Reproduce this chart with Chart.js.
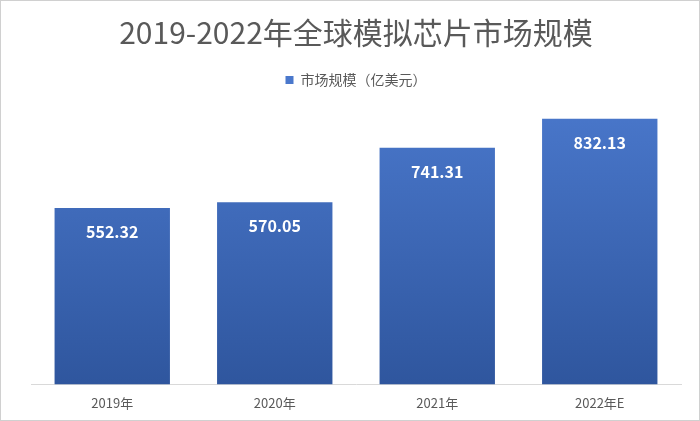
<!DOCTYPE html>
<html><head><meta charset="utf-8">
<script src="https://cdn.jsdelivr.net/npm/chart.js@4/dist/chart.umd.min.js"></script>
<style>html,body{margin:0;padding:0;background:#fff}#w{width:698px;height:419px;border:1px solid #d0d0d0}</style>
</head><body><div id="w"><canvas id="c"></canvas></div>
<script>
const categories=["2019年","2020年","2021年","2022年E"];
const values=[552.32,570.05,741.31,832.13];
const seriesName="市场规模（亿美元）";
const titleText="2019-2022年全球模拟芯片市场规模";
const labelPlugin={id:'lbl',afterDatasetsDraw(ch){const ctx=ch.ctx;const m=ch.getDatasetMeta(0);ctx.save();ctx.fillStyle='#fff';ctx.font='bold 16px "Noto Sans CJK SC", sans-serif';ctx.textAlign='center';ctx.textBaseline='middle';m.data.forEach((b,i)=>{ctx.fillText(values[i].toFixed(2),b.x,b.y+24);});ctx.restore();}};
new Chart(document.getElementById('c'),{type:'bar',
data:{labels:categories,datasets:[{label:seriesName,data:values,
backgroundColor(c){const a=c.chart.chartArea;if(!a)return'#4472C4';const g=c.chart.ctx.createLinearGradient(0,a.top,0,a.bottom);g.addColorStop(0,'#4a78cc');g.addColorStop(1,'#2f569e');return g;},
barPercentage:0.71,categoryPercentage:1}]},
options:{responsive:true,maintainAspectRatio:false,animation:false,
layout:{padding:{left:30,right:18,top:0,bottom:6}},
plugins:{title:{display:true,text:titleText,color:'#595959',font:{size:30,family:'"Noto Sans CJK SC", sans-serif',weight:'normal'},padding:{top:14,bottom:12}},
legend:{display:true,labels:{color:'#595959',boxWidth:8,boxHeight:8,font:{size:14,family:'"Noto Sans CJK SC", sans-serif'}}},tooltip:{enabled:false}},
scales:{x:{grid:{display:false},border:{color:'#d9d9d9'},ticks:{color:'#595959',font:{size:13,family:'"Noto Sans CJK SC", sans-serif'}}},
y:{display:false,min:0,max:900}}},plugins:[labelPlugin]});
</script></body></html>
